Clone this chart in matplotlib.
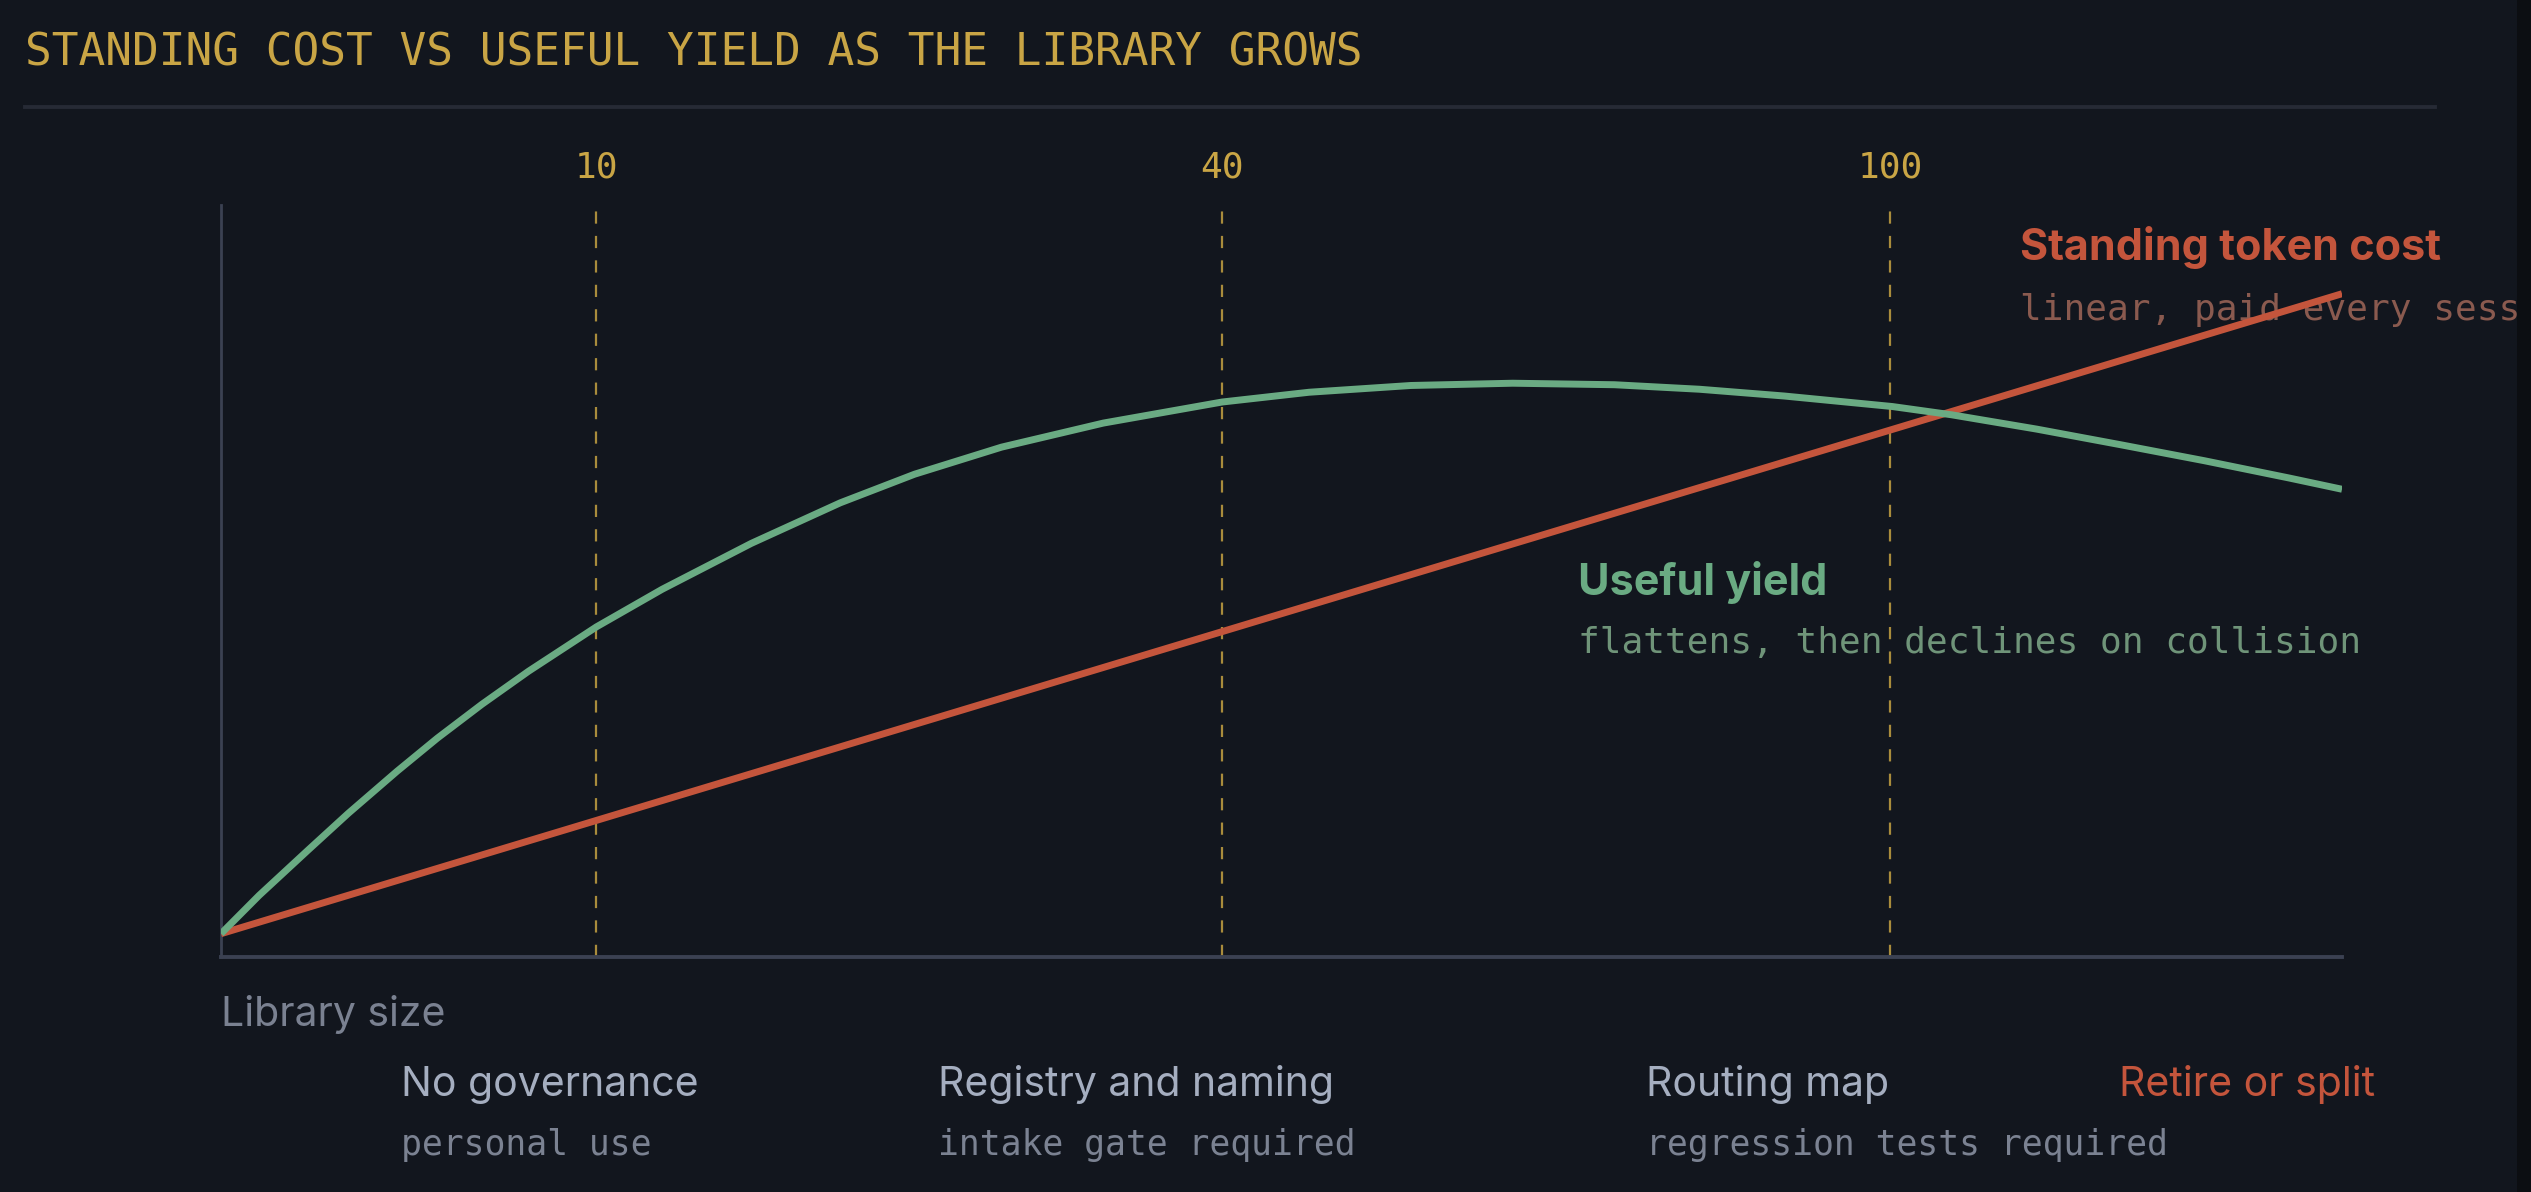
import matplotlib
matplotlib.use("Agg")
import matplotlib.pyplot as plt
from matplotlib.lines import Line2D
from matplotlib.patches import Rectangle

# data (x = position along the library-size axis, 0..100; y = relative level, 0..100)
thresh_pos = [17.7, 47.2, 78.7]
thresh_labels = ["10", "40", "100"]

cost_x = [0, 100]
cost_y = [3.1, 88.2]

yield_x = [0, 1.8, 4.1, 6.0, 8.3, 10.2, 12.3, 14.5, 17.7, 20.8, 25.0, 29.2, 32.7, 36.8,
           41.6, 47.2, 51.3, 56.1, 60.9, 65.7, 69.7, 73.7, 78.8, 81.6, 85.6, 89.6,
           93.5, 97.5, 100]
yield_y = [3.1, 8.2, 14.2, 19.1, 24.7, 29.1, 33.6, 38.0, 43.9, 48.9, 55.0, 60.4, 64.2, 67.8,
           71.0, 73.8, 75.1, 76.0, 76.3, 76.1, 75.5, 74.6, 73.2, 72.1, 70.2, 68.1,
           66.0, 63.7, 62.2]

stage_titles = ["No governance", "Registry and naming", "Routing map", "Retire or split"]
stage_notes = ["personal use", "intake gate required", "regression tests required", ""]
stage_pos = [8.5, 33.8, 67.2, 89.5]

# colours
BG = "#12161e"
GOLD = "#c9a545"
DASH = "#a98c3c"
RED = "#c4553c"
GREEN = "#6aab83"
AXIS = "#3b4152"
MONO = "DejaVu Sans Mono"
SANS = ["Inter", "DejaVu Sans"]

fig = plt.figure(figsize=(25.31, 11.92), dpi=100, facecolor=BG)
ax = fig.add_axes([221 / 2531, 235 / 1192, 2121 / 2531, 752 / 1192])
ax.set_facecolor(BG)
ax.set_xlim(0, 100)
ax.set_ylim(0, 100)
ax.set_xticks([])
ax.set_yticks([])
for s in ["top", "right"]:
    ax.spines[s].set_visible(False)
ax.spines["left"].set_color(AXIS)
ax.spines["left"].set_linewidth(2.0)
ax.spines["bottom"].set_color(AXIS)
ax.spines["bottom"].set_linewidth(2.8)

# title + rule
fig.text(25 / 2531, 1 - 66 / 1192, "STANDING COST VS USEFUL YIELD AS THE LIBRARY GROWS",
         family=MONO, fontsize=32, color=GOLD, va="baseline", ha="left")
fig.add_artist(Line2D([25 / 2531, 2435 / 2531], [1 - 107 / 1192] * 2,
                      transform=fig.transFigure, color="#262a35", lw=2.8))

# threshold markers
for xp, lab in zip(thresh_pos, thresh_labels):
    ax.plot([xp, xp], [0, 100], color=DASH, lw=1.6, linestyle=(0, (5.5, 5.5)), zorder=1)
    ax.text(xp, 103.6, lab, family=MONO, fontsize=26, color=GOLD,
            ha="center", va="baseline", clip_on=False)

# curves
ax.plot(cost_x, cost_y, color=RED, lw=5, solid_capstyle="butt", zorder=3)
ax.plot(yield_x, yield_y, color=GREEN, lw=5, solid_capstyle="butt",
        solid_joinstyle="round", zorder=4)

# curve labels
ax.text(84.8, 92.75, "Standing token cost", family=SANS, fontsize=31, fontweight="bold",
        color=RED, va="baseline", clip_on=False)
ax.text(84.8, 84.7, "linear, paid every session", family=MONO, fontsize=26,
        color="#8a5a4f", va="baseline", clip_on=False, zorder=2)
ax.text(64.0, 48.1, "Useful yield", family=SANS, fontsize=31, fontweight="bold",
        color=GREEN, va="baseline", clip_on=False)
ax.text(64.0, 40.4, "flattens, then declines on collision", family=MONO, fontsize=26,
        color="#6f9479", va="baseline", clip_on=False)

# axis label
ax.text(0, -9.2, "Library size", family=SANS, fontsize=29.5, color="#7a8191",
        va="baseline", clip_on=False)

# governance stages
for i, (xp, t, n) in enumerate(zip(stage_pos, stage_titles, stage_notes)):
    col = RED if i == len(stage_titles) - 1 else "#a5aec0"
    ax.text(xp, -18.5, t, family=SANS, fontsize=29.5, color=col, va="baseline", clip_on=False)
    if n:
        ax.text(xp, -26.3, n, family=MONO, fontsize=25, color="#7b8292",
                va="baseline", clip_on=False)

# dark strip on the right edge
fig.add_artist(Rectangle((2517 / 2531, 0), 14 / 2531, 1, transform=fig.transFigure,
                         facecolor="#0c0e12", edgecolor="none", zorder=10))

fig.savefig("out.png", dpi=100, facecolor=BG)
